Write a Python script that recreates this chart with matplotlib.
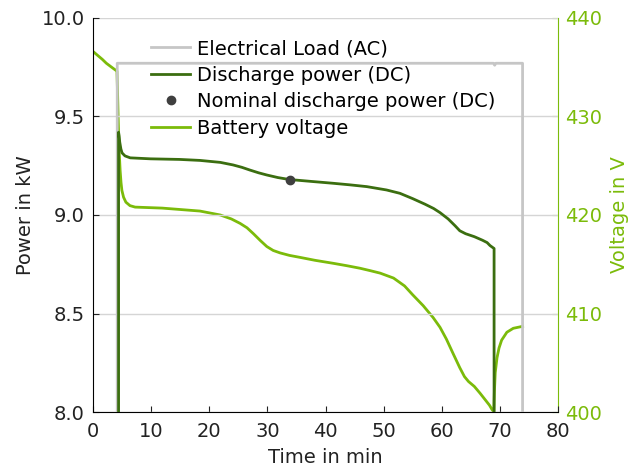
import matplotlib
matplotlib.use('Agg')
import matplotlib.pyplot as plt
import numpy as np

# Electrical load (AC), kW
load_t = [4.17, 4.17, 68.9, 69.1, 69.3, 73.9, 73.9]
load_kw = [0.0, 9.77, 9.77, 9.76, 9.77, 9.77, 0.0]

# Discharge power (DC), kW
dis_t = [4.4, 4.4, 4.5, 4.6, 4.8, 5.0, 5.5, 6.4, 9.9, 14.9, 18.4, 21.9, 24.1, 25.6,
         27.0, 28.5, 29.9, 31.8, 33.8, 37.7, 41.3, 44.2, 47.1, 50.5, 52.8, 55.0,
         57.1, 58.6, 59.7, 61.1, 62.3, 63.1, 64.1, 65.6, 67.0, 67.8, 68.3, 69.0, 69.0]
dis_kw = [0.0, 9.42, 9.40, 9.37, 9.335, 9.315, 9.30, 9.29, 9.285, 9.282, 9.277,
          9.267, 9.254, 9.242, 9.228, 9.214, 9.203, 9.19, 9.18, 9.17, 9.161, 9.153,
          9.144, 9.127, 9.11, 9.083, 9.055, 9.033, 9.012, 8.98, 8.945, 8.92, 8.905,
          8.89, 8.872, 8.86, 8.845, 8.83, 0.0]

# Nominal discharge power (DC)
nom_t = [33.9]
nom_kw = [9.18]

# Battery voltage, V
volt_t = [0, 0.8, 1.6, 2.3, 3.2, 4.12, 4.22, 4.37, 4.52, 4.67, 4.82, 4.97, 5.26,
          5.66, 6.36, 7.25, 11.9, 18.4, 21.9, 23.8, 25.3, 26.5, 27.6, 28.8, 29.9,
          31.0, 32.2, 33.8, 35.6, 38.2, 41.3, 43.7, 45.9, 47.7, 49.4, 51.7, 53.6,
          55.0, 56.8, 58.5, 59.7, 60.8, 61.9, 63.1, 63.9, 64.6, 65.6, 66.6, 67.4,
          68.2, 68.6, 68.95, 69.05, 69.2, 69.5, 69.85, 70.3, 71.2, 72.3, 73.9]
volt_v = [436.6, 436.2, 435.8, 435.4, 435.0, 434.6, 432.5, 429.0, 426.3, 424.5,
          423.3, 422.5, 421.8, 421.3, 420.95, 420.8, 420.7, 420.4, 420.0, 419.6,
          419.15, 418.7, 418.1, 417.4, 416.8, 416.4, 416.15, 415.9, 415.7, 415.4,
          415.1, 414.85, 414.6, 414.35, 414.1, 413.6, 412.8, 411.9, 410.8, 409.6,
          408.6, 407.4, 406.0, 404.5, 403.6, 403.1, 402.6, 401.9, 401.3, 400.7,
          400.3, 400.0, 402.0, 404.0, 405.5, 406.5, 407.3, 408.1, 408.5, 408.7]

c_load = '#c6c6c6'
c_dis = '#3b6e10'
c_volt = '#7bbb0a'
c_nom = '#3f3f3f'
c_text = '#222222'

plt.rcParams['font.family'] = ['DejaVu Sans']
plt.rcParams['font.size'] = 14

fig = plt.figure(figsize=(6.44, 4.72), dpi=100)
ax = fig.add_axes([0.1444, 0.127, 0.7221, 0.835])
ax2 = ax.twinx()

l1, = ax.plot(load_t, load_kw, color=c_load, lw=2.0, label='Electrical Load (AC)', zorder=3)
l2, = ax.plot(dis_t, dis_kw, color=c_dis, lw=2.0, label='Discharge power (DC)', zorder=4)
l3, = ax.plot(nom_t, nom_kw, 'o', color=c_nom, ms=6, label='Nominal discharge power (DC)', zorder=5)
l4, = ax2.plot(volt_t, volt_v, color=c_volt, lw=2.0, label='Battery voltage')

ax.set_zorder(ax2.get_zorder() + 1)
ax.patch.set_visible(False)

ax.set_xlim(0, 80)
ax.set_ylim(8.0, 10.0)
ax2.set_ylim(400, 440)
ax.set_xticks(np.arange(0, 81, 10))
ax.set_yticks(np.arange(8.0, 10.01, 0.5))
ax.set_yticklabels(['%.1f' % v for v in np.arange(8.0, 10.01, 0.5)])
ax2.set_yticks(np.arange(400, 441, 10))

ax.yaxis.grid(True, color='#d5d5d5', lw=1)
ax.set_axisbelow(True)

ax.tick_params(direction='in', length=4, colors=c_text, labelsize=14)
ax.tick_params(axis='x', pad=7)
ax.tick_params(axis='y', pad=6)
ax2.tick_params(direction='in', length=4, colors=c_volt, labelcolor=c_volt,
                labelsize=14, pad=5)

for a in (ax, ax2):
    a.spines['top'].set_visible(False)
ax2.spines['right'].set_color(c_volt)
ax2.spines['left'].set_visible(False)
ax.spines['right'].set_visible(False)
ax2.spines['bottom'].set_visible(False)

ax.set_xlabel('Time in min', color=c_text, labelpad=5)
ax.set_ylabel('Power in kW', color=c_text, labelpad=5)
ax2.set_ylabel('Voltage in V', color=c_volt, labelpad=6)

ax.legend(handles=[l1, l2, l3, l4], loc='upper left', bbox_to_anchor=(0.109, 0.966),
          frameon=False, fontsize=14, handlelength=2.0, handletextpad=0.36,
          labelspacing=0.39, borderaxespad=0.0)

fig.savefig('out.png', dpi=100)
